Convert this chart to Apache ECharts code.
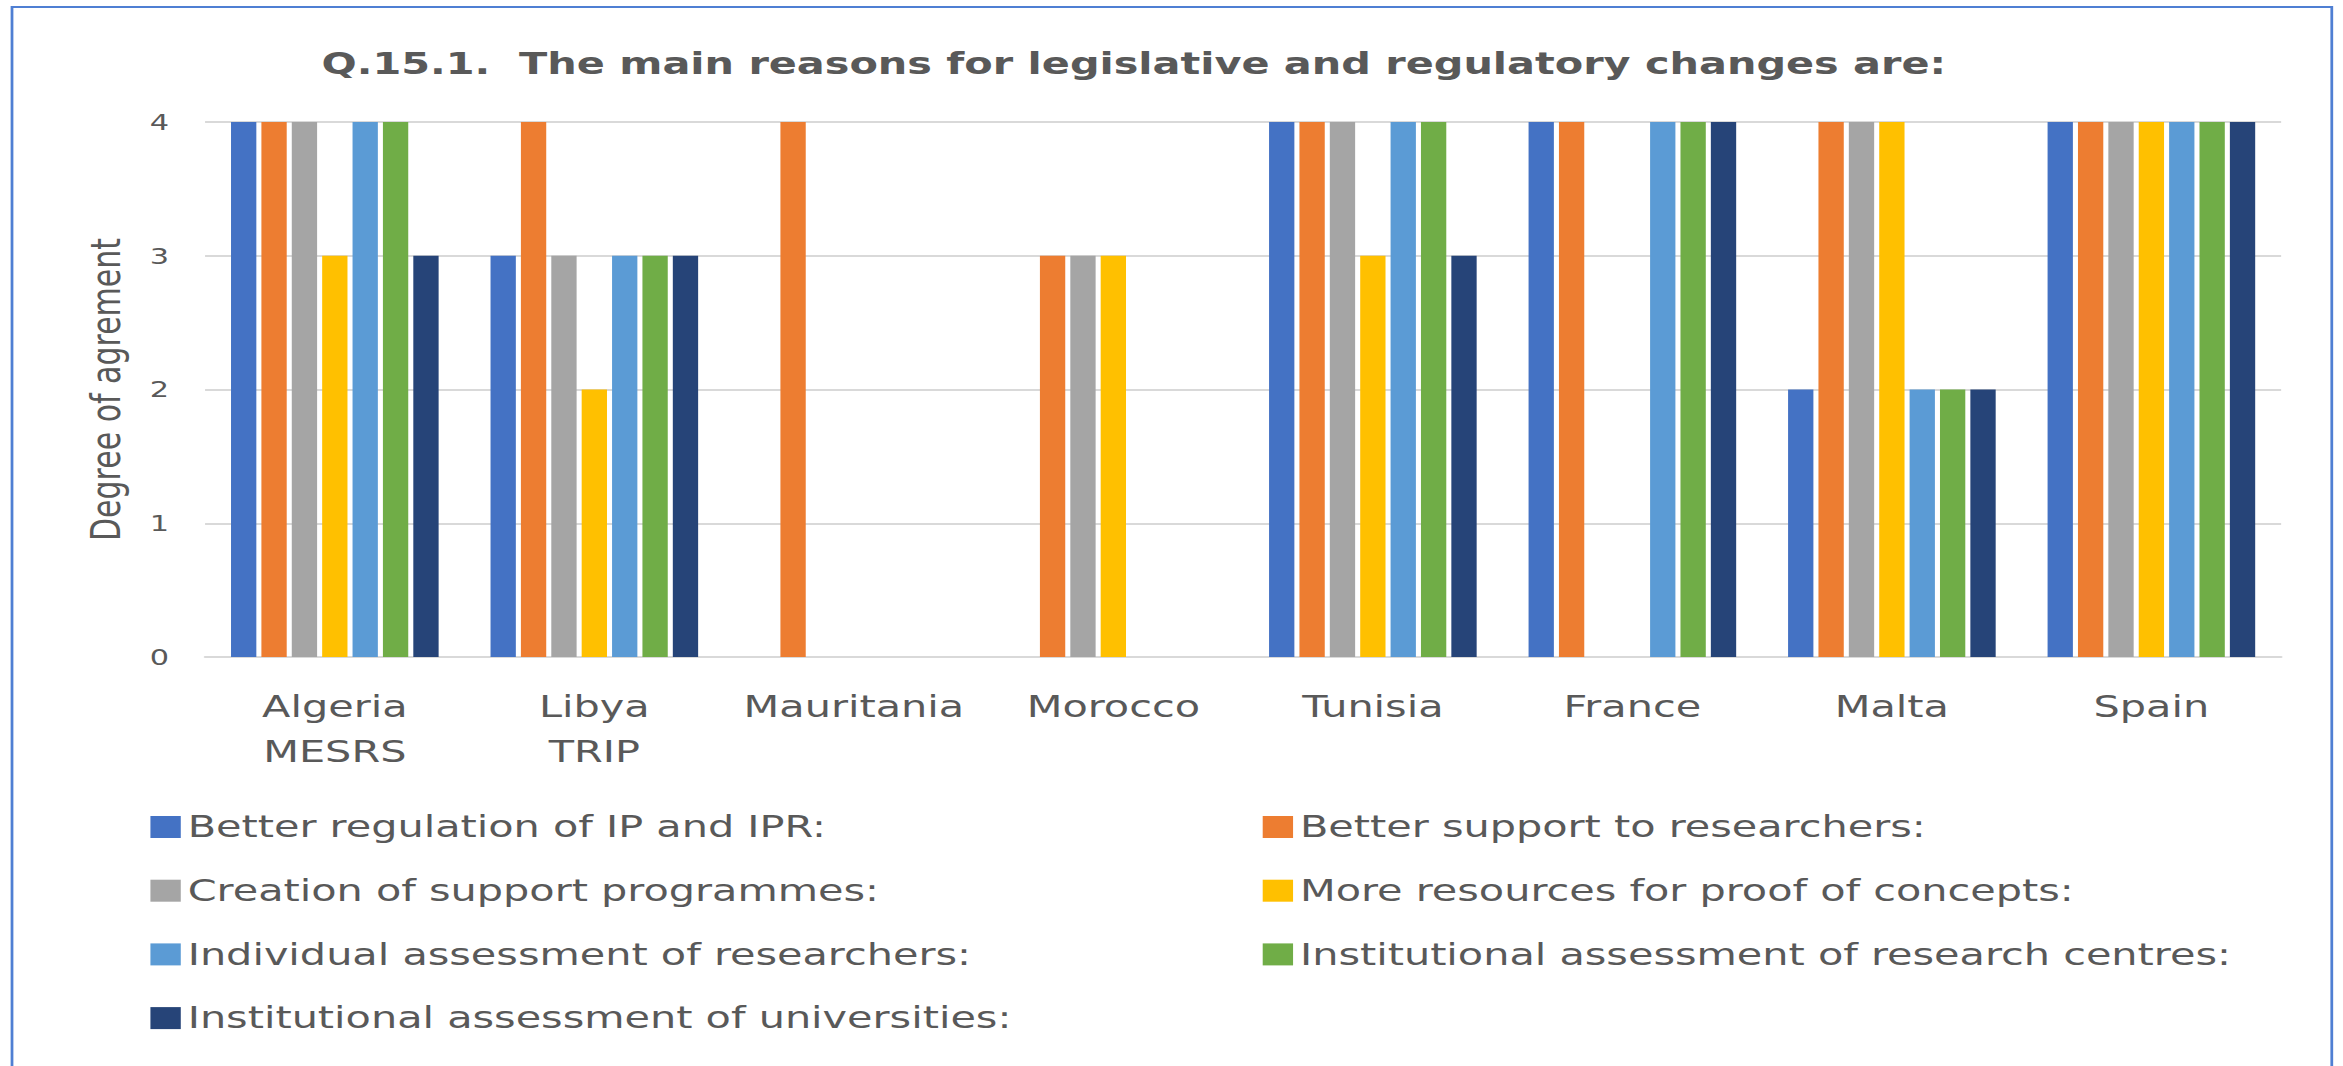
<!DOCTYPE html>
<html>
<head>
<meta charset="utf-8">
<title>Q.15.1</title>
<script src="https://cdn.jsdelivr.net/npm/echarts@6/dist/echarts.min.js"></script>
<style>
    html, body { margin: 0; padding: 0; background: #fff; overflow: hidden; }
    /* the source picture is stretched sideways, so the chart is drawn narrow and widened */
    #main { width: 1698px; height: 1066px; transform: scaleX(1.38); transform-origin: 0 0; }
</style>
</head>
<body>
<div id="main"></div>
<script>
// 类目
const countries = ['Algeria\nMESRS', 'Libya\nTRIP', 'Mauritania', 'Morocco', 'Tunisia', 'France', 'Malta', 'Spain'];
const reasons = [
    'Better regulation of IP and IPR:',
    'Better support to researchers:',
    'Creation of support programmes:',
    'More resources for proof of concepts:',
    'Individual assessment of researchers:',
    'Institutional assessment of research centres:',
    'Institutional assessment of universities:'
];
const colors = ['#4472C4', '#ED7D31', '#A5A5A5', '#FFC000', '#5B9BD5', '#70AD47', '#264478'];
const yTicks = [0, 1, 2, 3, 4];

// 每个原因在各国的同意程度 (null = 没有回答)
const ipRegulation = [4, 3, null, null, 4, 4, 2, 4];
const researcherSupport = [4, 4, 4, 3, 4, 4, 4, 4];
const supportProgrammes = [4, 3, null, 3, 4, null, 4, 4];
const proofOfConcepts = [3, 2, null, 3, 3, null, 4, 4];
const individualAssessment = [4, 3, null, null, 4, 4, 2, 4];
const centresAssessment = [4, 3, null, null, 4, 4, 2, 4];
const universitiesAssessment = [3, 3, null, null, 3, 4, 2, 4];

const values = [ipRegulation, researcherSupport, supportProgrammes, proofOfConcepts,
    individualAssessment, centresAssessment, universitiesAssessment];

let myChart = echarts.init(document.getElementById('main'), null, {renderer: 'svg'});
const textColor = '#595959';
const font = 'DejaVu Sans';

let option = {
    animation: false,
    color: colors,
    title: {
        text: 'Q.15.1.  The main reasons for legislative and regulatory changes are:',
        left: 228,
        top: 44,
        textStyle: {
            color: textColor,
            fontFamily: font,
            fontWeight: 'bold',
            fontSize: 30
        }
    },
    graphic: [{
        // 外框
        type: 'rect',
        shape: {x: 8.7, y: 7, width: 1681, height: 1100},
        style: {fill: 'none', stroke: '#4F7FD3', lineWidth: 2}
    }],
    legend: [{
        orient: 'vertical',
        left: 104,
        top: 807,
        icon: 'rect',
        itemWidth: 22,
        itemHeight: 22,
        itemGap: 33.7,
        data: [reasons[0], reasons[2], reasons[4], reasons[6]],
        textStyle: {color: textColor, fontFamily: font, fontSize: 30, lineHeight: 30}
    }, {
        orient: 'vertical',
        left: 910,
        top: 807,
        icon: 'rect',
        itemWidth: 22,
        itemHeight: 22,
        itemGap: 33.7,
        data: [reasons[1], reasons[3], reasons[5]],
        textStyle: {color: textColor, fontFamily: font, fontSize: 30, lineHeight: 30}
    }],
    grid: {
        left: 148.6,
        right: 45,
        top: 122,
        bottom: 409
    },
    xAxis: {
        type: 'category',
        data: countries,
        axisTick: {show: false},
        axisLine: {lineStyle: {color: '#D9D9D9', width: 2}},
        axisLabel: {
            interval: 0,
            margin: 27,
            color: textColor,
            fontFamily: font,
            fontSize: 30,
            lineHeight: 45
        }
    },
    yAxis: {
        type: 'value',
        min: yTicks[0],
        max: yTicks[yTicks.length - 1],
        interval: 1,
        name: 'Degree of agrement',
        nameLocation: 'middle',
        nameGap: 57,
        nameTextStyle: {color: textColor, fontFamily: font, fontSize: 30},
        axisLine: {show: false},
        axisTick: {show: false},
        axisLabel: {
            margin: 26,
            color: textColor,
            fontFamily: font,
            fontSize: 22
        },
        splitLine: {lineStyle: {color: '#D9D9D9', width: 2}}
    },
    series: reasons.map(function (name, i) {
        return {
            name: name,
            type: 'bar',
            barCategoryGap: '20%',
            barGap: '20%',
            data: values[i]
        };
    })
};

myChart.setOption(option);
</script>
</body>
</html>
